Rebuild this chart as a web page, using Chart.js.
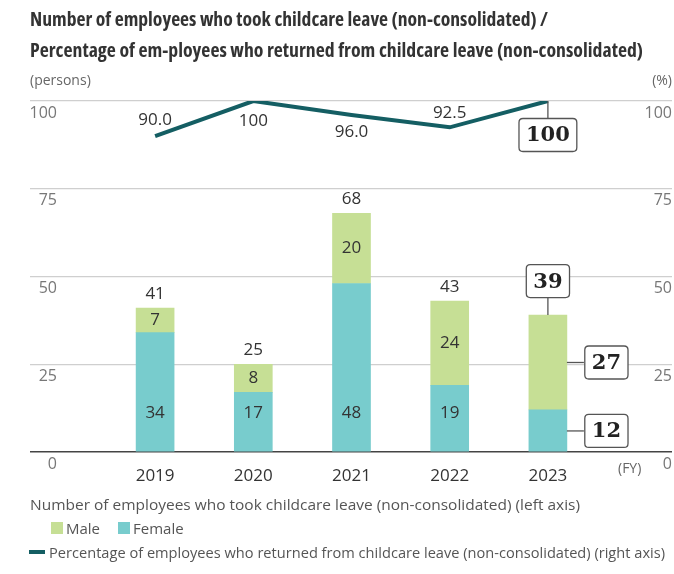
<!DOCTYPE html>
<html>
<head>
<meta charset="utf-8">
<script src="https://cdn.jsdelivr.net/npm/chart.js@4.4.1/dist/chart.umd.min.js"></script>
<style>
  html, body { margin: 0; padding: 0; background: #fff; }
  #wrap { position: relative; width: 674px; height: 574px; overflow: hidden; font-family: "Open Sans", sans-serif; }
  canvas { position: absolute; left: 0; top: 0; }
  .t { position: absolute; white-space: nowrap; transform-origin: 0 50%; }
  .title { font-weight: 700; font-size: 20px; color: #333; line-height: 30px; font-stretch: condensed; }
  .unit { font-size: 14px; color: #666; line-height: 20px; }
  .leg { font-size: 15px; color: #555; line-height: 20px; }
  .sq { position: absolute; width: 12px; height: 12px; }
</style>
</head>
<body>
<div id="wrap">
  <canvas id="c" width="674" height="574"></canvas>
  <div class="t title" id="t1" data-w="518" style="left:30px; top:4px;">Number of employees who took childcare leave (non-consolidated) /</div>
  <div class="t title" id="t2" data-w="613" style="left:30px; top:35px;">Percentage of em-ployees who returned from childcare leave (non-consolidated)</div>
  <div class="t unit" style="left:30px; top:70px;">(persons)</div>
  <div class="t unit" style="right:2px; top:70px;">(%)</div>
  <div class="t unit" style="left:618px; top:458px;">(FY)</div>
  <div class="t leg" id="l1" data-w="550" style="left:30px; top:494px;">Number of employees who took childcare leave (non-consolidated) (left axis)</div>
  <div class="sq" style="left:51px; top:522px; background:#c6df95;"></div>
  <div class="t leg" style="left:66px; top:518px;">Male</div>
  <div class="sq" style="left:118px; top:522px; background:#78cccd;"></div>
  <div class="t leg" style="left:133px; top:518px;">Female</div>
  <div style="position:absolute; left:29px; top:550px; width:16px; height:4px; background:#145e63;"></div>
  <div class="t leg" id="l3" data-w="616" style="left:49px; top:542px;">Percentage of employees who returned from childcare leave (non-consolidated) (right axis)</div>
</div>
<script>
// ---- data ----
const categories = ['2019', '2020', '2021', '2022', '2023'];
const female = [34, 17, 48, 19, 12];
const male = [7, 8, 20, 24, 27];
const totals = [41, 25, 68, 43, 39];
const returnRate = [90.0, 100, 96.0, 92.5, 100];
const returnRateLabels = ['90.0', '100', '96.0', '92.5', '100'];
const yTicks = [0, 25, 50, 75, 100];

// ---- styles ----
const FEMALE_COLOR = '#78cccd';
const MALE_COLOR = '#c6df95';
const LINE_COLOR = '#145e63';
const GRID_COLOR = '#cfcfcf';
const BASE_COLOR = '#444';
const lineLabelOffsets = [-16, 20, 17, -14, 0];

// fit text widths
document.querySelectorAll('[data-w]').forEach(el => {
  const w = el.getBoundingClientRect().width;
  const target = parseFloat(el.dataset.w);
  if (w > 0) el.style.transform = 'scaleX(' + (target / w) + ')';
});

function roundRect(ctx, x, y, w, h, r) {
  ctx.beginPath();
  ctx.moveTo(x + r, y);
  ctx.lineTo(x + w - r, y);
  ctx.quadraticCurveTo(x + w, y, x + w, y + r);
  ctx.lineTo(x + w, y + h - r);
  ctx.quadraticCurveTo(x + w, y + h, x + w - r, y + h);
  ctx.lineTo(x + r, y + h);
  ctx.quadraticCurveTo(x, y + h, x, y + h - r);
  ctx.lineTo(x, y + r);
  ctx.quadraticCurveTo(x, y, x + r, y);
  ctx.closePath();
}

function callout(ctx, cx, cy, text) {
  ctx.save();
  ctx.font = 'bold 21px "DejaVu Serif", serif';
  const tw = ctx.measureText(text).width;
  const w = tw + 14, h = 33;
  roundRect(ctx, cx - w / 2, cy - h / 2, w, h, 4);
  ctx.fillStyle = '#fff';
  ctx.fill();
  ctx.lineWidth = 1.3;
  ctx.strokeStyle = '#555';
  ctx.stroke();
  ctx.fillStyle = '#222';
  ctx.textAlign = 'center';
  ctx.textBaseline = 'middle';
  ctx.fillText(text, cx, cy + 1);
  ctx.restore();
  return { w, h };
}

function connector(ctx, x1, y1, x2, y2) {
  ctx.save();
  ctx.strokeStyle = '#555';
  ctx.lineWidth = 1.3;
  ctx.beginPath();
  ctx.moveTo(x1, y1);
  ctx.lineTo(x2, y2);
  ctx.stroke();
  ctx.restore();
}

const labelPlugin = {
  id: 'valueLabels',
  afterDatasetsDraw(chart) {
    const ctx = chart.ctx;
    const xs = chart.scales.x, ys = chart.scales.y, y1 = chart.scales.y1;
    const last = categories.length - 1;
    const mMeta = chart.getDatasetMeta(1);
    const base = ys.getPixelForValue(0);
    ctx.save();
    ctx.font = '17px "Open Sans", sans-serif';
    ctx.fillStyle = '#333';
    ctx.textAlign = 'center';
    ctx.textBaseline = 'middle';
    categories.forEach((c, i) => {
      if (i === last) return;
      const cx = xs.getPixelForValue(i);
      ctx.fillText(String(female[i]), cx, base - 39);
      ctx.fillText(String(male[i]), cx, ys.getPixelForValue(female[i] + male[i] / 2));
      ctx.fillText(String(totals[i]), cx, ys.getPixelForValue(totals[i]) - 14);
      ctx.fillText(returnRateLabels[i], cx, y1.getPixelForValue(returnRate[i]) + lineLabelOffsets[i]);
    });
    ctx.restore();

    // callouts for latest year
    const cx = xs.getPixelForValue(last);
    const bar = mMeta.data[last];
    const barRight = cx + bar.width / 2;
    const topY = ys.getPixelForValue(totals[last]);
    // total
    connector(ctx, cx, topY - 17, cx, topY);
    callout(ctx, cx, topY - 34, String(totals[last]));
    // male
    const my = ys.getPixelForValue(female[last] + male[last] / 2);
    const bx = barRight + 17 + 22.5;
    connector(ctx, barRight, my, barRight + 17, my);
    callout(ctx, bx, my, String(male[last]));
    // female
    const fy = ys.getPixelForValue(female[last] / 2);
    connector(ctx, barRight, fy, barRight + 17, fy);
    callout(ctx, bx, fy, String(female[last]));
    // rate
    const py = y1.getPixelForValue(returnRate[last]);
    connector(ctx, cx, py, cx, py + 17);
    callout(ctx, cx, py + 34, returnRateLabels[last]);
  }
};

const gridColor = c => (c.tick && c.tick.value === 0 ? BASE_COLOR : GRID_COLOR);
const gridWidth = c => (c.tick && c.tick.value === 0 ? 1.6 : 1.2);

new Chart(document.getElementById('c'), {
  type: 'bar',
  data: {
    labels: categories,
    datasets: [
      { label: 'Female', data: female, backgroundColor: FEMALE_COLOR, stack: 's', order: 2, yAxisID: 'y', barThickness: 38 },
      { label: 'Male', data: male, backgroundColor: MALE_COLOR, stack: 's', order: 2, yAxisID: 'y', barThickness: 38 },
      { type: 'line', label: 'Return rate', data: returnRate, borderColor: LINE_COLOR, borderWidth: 4,
        pointRadius: 0, tension: 0, fill: false, order: 0, yAxisID: 'y1' }
    ]
  },
  options: {
    responsive: false,
    animation: false,
    layout: { padding: { top: 101, left: 30, right: 2, bottom: 92 } },
    plugins: { legend: { display: false }, tooltip: { enabled: false }, title: { display: false } },
    scales: {
      x: {
        stacked: true,
        offset: true,
        grid: { display: false },
        border: { display: false },
        ticks: { color: '#333', font: { size: 17, family: '"Open Sans", sans-serif' }, padding: 6, maxRotation: 0 },
        afterFit: s => { s.height = 30; }
      },
      y: {
        position: 'left',
        stacked: true,
        min: 0, max: 100,
        afterBuildTicks: s => { s.ticks = yTicks.map(v => ({ value: v })); },
        grid: { color: gridColor, tickColor: gridColor, lineWidth: gridWidth, drawTicks: true, tickLength: 76 },
        border: { display: false },
        ticks: { color: '#777', font: { size: 16, family: '"Open Sans", sans-serif' }, padding: -27, labelOffset: 12 },
        afterFit: s => { s.width = 76; }
      },
      y1: {
        position: 'right',
        min: 0, max: 100,
        afterBuildTicks: s => { s.ticks = yTicks.map(v => ({ value: v })); },
        grid: { drawOnChartArea: false, color: gridColor, tickColor: gridColor, lineWidth: gridWidth, drawTicks: true, tickLength: 75 },
        border: { display: false },
        ticks: { color: '#777', font: { size: 16, family: '"Open Sans", sans-serif' }, crossAlign: 'far', labelOffset: 12 },
        afterFit: s => { s.width = 75; }
      }
    }
  },
  plugins: [labelPlugin]
});
</script>
</body>
</html>
